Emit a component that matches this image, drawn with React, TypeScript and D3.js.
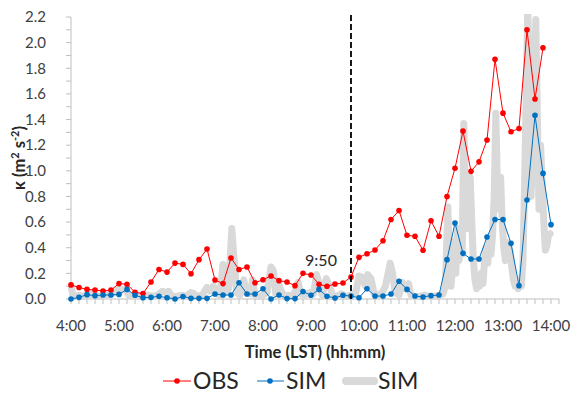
import React from "react";
import * as d3 from "d3";

// 10-min observation series starting at 4:00
const obsValues = [
  0.11, 0.09, 0.075, 0.07, 0.062, 0.07, 0.12, 0.115, 0.052, 0.042,
  0.133, 0.23, 0.21, 0.28, 0.27, 0.197, 0.307, 0.39, 0.148, 0.12,
  0.32, 0.23, 0.25, 0.127, 0.15, 0.18, 0.143, 0.133, 0.104, 0.2,
  0.187, 0.115, 0.099, 0.117, 0.125, 0.172, 0.325, 0.353, 0.382, 0.455,
  0.62, 0.69, 0.497, 0.489, 0.38, 0.61, 0.489, 0.8, 1.02, 1.31,
  0.996, 1.07, 1.24, 1.87, 1.45, 1.305, 1.33, 2.1, 1.56, 1.96,
];
// 10-min simulation series starting at 4:00
const simValues = [
  0.0, 0.013, 0.034, 0.026, 0.031, 0.031, 0.036, 0.075, 0.029, 0.01,
  0.013, 0.021, 0.01, 0.0, 0.02, 0.005, 0.005, 0.005, 0.039, 0.031,
  0.031, 0.127, 0.039, 0.039, 0.08, 0.0, 0.031, 0.003, 0.003, 0.058,
  0.029, 0.075, 0.021, 0.008, 0.029, 0.023, 0.01, 0.08, 0.023, 0.023,
  0.039, 0.138, 0.075, 0.023, 0.016, 0.026, 0.031, 0.307, 0.593, 0.356,
  0.312, 0.312, 0.484, 0.62, 0.62, 0.434, 0.104, 0.772, 1.433, 0.98,
  0.58,
];
// high-frequency simulation: minutes after 4:00 and value
const simHfMinutes = [
  0, 2, 5, 10, 15, 20, 25, 30, 35, 40, 45, 50, 55, 60, 64, 68, 72, 78, 84, 90,
  96, 102, 108, 114, 118, 122, 126, 132, 138, 144, 150, 154, 158, 164, 170, 174, 178, 182, 186, 190,
  193, 197, 201, 204, 207, 211, 216, 219, 224, 227, 230, 235, 240, 245, 250, 253, 256, 260, 263, 267,
  272, 278, 284, 287, 292, 298, 303, 307, 310, 314, 319, 323, 327, 332, 338, 344, 350, 356, 360, 364,
  368, 371, 375, 379, 384, 389, 393, 399, 402, 405, 410, 414, 418, 422, 425, 430, 436, 442, 448, 454,
  460, 465, 468, 471, 473, 475, 477, 479, 481, 483, 485, 487, 489, 491, 493, 495, 497, 499, 501, 503,
  505, 507, 509, 511, 513, 515, 517, 519, 521, 523, 525, 527, 529, 531, 533, 535, 537, 539, 541, 543,
  545, 547, 549, 551, 553, 555, 557, 559, 561, 563, 565, 567, 569, 571, 573, 575, 577, 579, 581, 583,
  585, 587, 589, 591, 593, 595, 597, 599,
];
const simHfValues = [
  0.1, 0.04, 0.02, 0.03, 0.02, 0.03, 0.04, 0.03, 0.02, 0.03, 0.03, 0.04, 0.05, 0.08, 0.07, 0.08, 0.03, 0.02, 0.03, 0.02,
  0.03, 0.02, 0.03, 0.06, 0.05, 0.06, 0.02, 0.02, 0.03, 0.02, 0.05, 0.04, 0.02, 0.03, 0.09, 0.06, 0.1, 0.04, 0.03, 0.27,
  0.05, 0.08, 0.55, 0.3, 0.05, 0.03, 0.15, 0.05, 0.04, 0.15, 0.03, 0.02, 0.03, 0.05, 0.25, 0.22, 0.04, 0.11, 0.06, 0.02,
  0.03, 0.02, 0.13, 0.04, 0.03, 0.05, 0.04, 0.19, 0.12, 0.03, 0.16, 0.1, 0.03, 0.02, 0.04, 0.02, 0.03, 0.05, 0.18, 0.17,
  0.1, 0.19, 0.16, 0.04, 0.03, 0.05, 0.1, 0.28, 0.2, 0.05, 0.03, 0.13, 0.08, 0.12, 0.03, 0.02, 0.02, 0.03, 0.02, 0.02,
  0.03, 0.04, 0.1, 0.72, 0.3, 0.1, 0.25, 0.45, 0.2, 0.55, 0.3, 0.45, 0.35, 1.37, 0.8, 0.55, 0.7, 0.95, 0.6, 0.3,
  0.15, 0.08, 0.15, 0.1, 0.2, 0.12, 0.3, 0.4, 0.28, 0.44, 0.35, 0.5, 0.8, 1.45, 0.9, 0.7, 0.95, 0.6, 0.4, 0.3,
  0.44, 0.32, 0.38, 0.25, 0.15, 0.1, 0.12, 0.08, 0.12, 0.1, 0.3, 0.9, 1.6, 2.3, 1.5, 0.8, 1.1, 1.7, 2.18, 1.4,
  0.7, 1.2, 0.9, 0.6, 0.38, 0.42, 0.5, 0.51,
];
const xTickLabels = ["4:00", "5:00", "6:00", "7:00", "8:00", "9:00", "10:00", "11:00", "12:00", "13:00", "14:00"];
const yTickLabels = ["0.0", "0.2", "0.4", "0.6", "0.8", "1.0", "1.2", "1.4", "1.6", "1.8", "2.0", "2.2"];
const markerMinutes = [350];
const markerLabels = ["9:50"];

const FONT = "Lato, 'Open Sans', sans-serif";

export default function App() {
  const W = 573, H = 407;
  const x = d3.scaleLinear().domain([0, 610]).range([71, 559]);
  const y = d3.scaleLinear().domain([0, 2.2]).range([299, 17]);

  const obsData = obsValues.map((v, i) => [i * 10, v] as [number, number]);
  const simData = simValues.map((v, i) => [i * 10, v] as [number, number]);
  const hfData = simHfMinutes.map((m, i) => [m, simHfValues[i]] as [number, number]);

  const line = d3.line<[number, number]>().x((d) => x(d[0])).y((d) => y(d[1]));

  const xMinor = d3.range(0, 611, 10);
  const yMinor = d3.range(0, 23).map((k) => k / 10);
  const axisColor = "#bfbfbf";
  const textColor = "#404040";
  const red = "#ff0000";
  const blue = "#0070c0";
  const grey = "#d9d9d9";

  return (
    <svg width={W} height={H} style={{ position: "absolute", left: 0, top: 0, background: "#fff" }} fontFamily={FONT}>
      <defs>
        <clipPath id="plotClip">
          <rect x={60} y={14} width={510} height={300} />
        </clipPath>
      </defs>
      {/* axes */}
      <line x1={x(0)} x2={x(0)} y1={y(0)} y2={y(2.2)} stroke={axisColor} strokeWidth={1} />
      {yMinor.map((v) => (
        <line key={"yt" + v} x1={x(0) - 5} x2={x(0)} y1={y(v)} y2={y(v)} stroke={axisColor} strokeWidth={1} />
      ))}
      <line x1={x(0)} x2={x(610)} y1={y(0)} y2={y(0)} stroke={axisColor} strokeWidth={1} />
      {xMinor.map((m) => (
        <line key={"xt" + m} x1={x(m)} x2={x(m)} y1={y(0)} y2={y(0) + 5} stroke={axisColor} strokeWidth={1} />
      ))}
      {yTickLabels.map((t) => (
        <text key={t} x={46} y={y(+t)} dy="0.35em" textAnchor="end" fontSize={15} fill={textColor}>{t}</text>
      ))}
      {xTickLabels.map((t, i) => (
        <text key={t} x={x(i * 60)} y={331} textAnchor="middle" fontSize={15} fill={textColor}>{t}</text>
      ))}
      {/* titles */}
      <text x={315} y={358} textAnchor="middle" fontSize={16.5} fontWeight="bold" fill="#262626">Time (LST) (hh:mm)</text>
      <text transform={`translate(25,158) rotate(-90)`} textAnchor="middle" fontSize={16.5} fontWeight="bold" fill="#262626">
        κ (m<tspan dy="-6" fontSize={11}>2</tspan><tspan dy="6"> s</tspan><tspan dy="-6" fontSize={11}>-2</tspan><tspan dy="6">)</tspan>
      </text>

      {/* series */}
      <g clipPath="url(#plotClip)">
        <path d={line(hfData) || ""} fill="none" stroke={grey} strokeWidth={7} strokeLinejoin="round" strokeLinecap="round" />
      </g>
      <path d={line(obsData) || ""} fill="none" stroke={red} strokeWidth={1} />
      {obsData.map((d, i) => (
        <circle key={"o" + i} cx={x(d[0])} cy={y(d[1])} r={2.8} fill={red} />
      ))}
      <path d={line(simData) || ""} fill="none" stroke={blue} strokeWidth={1} />
      {simData.map((d, i) => (
        <circle key={"s" + i} cx={x(d[0])} cy={y(d[1])} r={2.8} fill={blue} />
      ))}

      {/* 9:50 marker */}
      {markerMinutes.map((m, i) => (
        <g key={"m" + i}>
          <line x1={x(m)} x2={x(m)} y1={15} y2={y(0)} stroke="#000" strokeWidth={1.8} strokeDasharray="6,3" />
          <text x={x(m) - 30} y={266} textAnchor="middle" fontSize={16} fill="#262626">{markerLabels[i]}</text>
        </g>
      ))}

      {/* legend */}
      <g fontSize={23} fill="#262626">
        <line x1={163} x2={191} y1={381} y2={381} stroke={red} strokeWidth={1} />
        <circle cx={177} cy={381} r={2.8} fill={red} />
        <text x={193} y={389}>OBS</text>
        <line x1={257} x2={284} y1={381} y2={381} stroke={blue} strokeWidth={1} />
        <circle cx={270} cy={381} r={2.8} fill={blue} />
        <text x={286} y={389}>SIM</text>
        <line x1={346} x2={374} y1={381} y2={381} stroke={grey} strokeWidth={8} strokeLinecap="round" />
        <text x={378} y={389}>SIM</text>
      </g>
    </svg>
  );
}
